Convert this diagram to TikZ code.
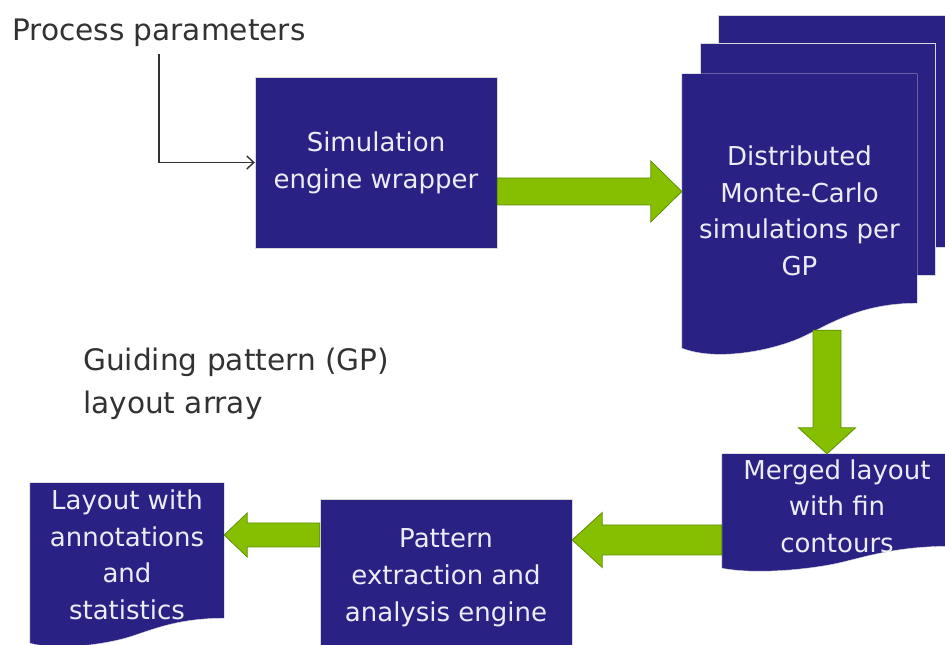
\documentclass[tikz,border=0pt]{standalone}
\usepackage{fontspec}
\setmainfont{DejaVu Sans}
\usetikzlibrary{calc,backgrounds,arrows.meta}

\definecolor{navy}{RGB}{42,33,133}
\definecolor{paper}{RGB}{236,236,246}
\definecolor{leaf}{RGB}{134,191,0}
\definecolor{leafdark}{RGB}{94,143,0}
\definecolor{ink}{RGB}{50,50,50}

% page with a wavy lower edge, filled behind node #1
% #2: drop of the left end below the node, #3: rise of the right end
\newcommand\docpage[3]{%
  \fill[navy, draw=black!15] let \p1=(#1.south west), \p2=(#1.south east),
      \p3=($(#1.south east)-(#1.south west)$) in
    (#1.north west) -- (#1.north east) -- (\x2,\y2-#2+#3)
    .. controls (\x2-0.25*\x3,\y2-#2+#3) and (\x1+0.62*\x3,\y1-#2+0.5*#3) .. (\x1+0.5*\x3,\y1-#2+0.22*#3)
    .. controls (\x1+0.38*\x3,\y1-#2-0.05*#3) and (\x1+0.15*\x3,\y1-#2-0.3*#3) .. (\x1,\y1-#2) -- cycle;}

\begin{document}
\begin{tikzpicture}[x=1pt,y=1pt,
    box/.style={fill=navy, draw=black!15, text=paper, align=center, inner sep=0pt,
      font=\fontsize{26}{37}\selectfont},
    doc/.style={text=paper, align=center, inner sep=0pt, font=\fontsize{26}{36.5}\selectfont},
    caption/.style={text=ink, align=left, inner sep=0pt, font=\fontsize{29.6}{43}\selectfont},
    conn/.style={draw=ink, line width=1.4pt, shorten <=7pt, -{Straight Barb[length=7pt,width=13pt]}},
    fat/.style args={#1/#2/#3}{fill=leaf, draw=leafdark, line width=0.8pt, to path={
      ($(\tikztostart)!#1!90:(\tikztotarget)$)
      -- ($($(\tikztotarget)!#3!(\tikztostart)$)!#1!-90:(\tikztostart)$)
      -- ($($(\tikztotarget)!#3!(\tikztostart)$)!#2!-90:(\tikztostart)$)
      -- (\tikztotarget)
      -- ($($(\tikztotarget)!#3!(\tikztostart)$)!#2!90:(\tikztostart)$)
      -- ($($(\tikztotarget)!#3!(\tikztostart)$)!#1!90:(\tikztostart)$)
      -- ($(\tikztostart)!#1!-90:(\tikztotarget)$) -- cycle}}
  ]
  \useasboundingbox (0,0) rectangle (945,645);

  \node[caption, anchor=base west] (params) at (12,604) {Process parameters};
  \node[caption, anchor=north west] (gp) at (83,297) {Guiding pattern (GP)\\layout array};

  \node[box, minimum width=242pt, minimum height=171pt] (sim) at (376,482.5) {Simulation\\engine wrapper};
  \node[doc, minimum width=235pt, minimum height=274pt] (mc) at (799.5,434)
    {Distributed\\Monte-Carlo\\simulations per\\GP};
  \node[doc, minimum width=230pt, minimum height=104pt] (merged) at (837,139)
    {Merged layout\\with fin\\contours};
  \node[box, minimum width=252pt, minimum height=158pt] (pattern) at (446,67)
    {Pattern\\extraction and\\analysis engine};
  \node[doc, minimum width=194pt, minimum height=144pt] (layout) at (127,90)
    {Layout with\\annotations\\and\\statistics};

  \begin{pgfonlayer}{background}
    % stacked pages behind the front one
    \filldraw[navy, draw=black!15] ($(mc.north west)+(36,59)$) rectangle ($(mc.north east)+(36,-173)$);
    \filldraw[navy, draw=black!15] ($(mc.north west)+(18,31)$) rectangle ($(mc.north east)+(18,-201)$);
    \docpage{mc}{0pt}{45pt}
    \docpage{merged}{10pt}{22pt}
    \docpage{layout}{16pt}{25pt}
  \end{pgfonlayer}

  \draw[conn] (params) |- (sim);

  \coordinate (a1) at ($(sim.east)+(0,-29)$);
  \coordinate (a2) at ($(mc.south)+(27.5,18)$);
  \coordinate (a3) at ($(merged.west)+(0,-34)$);
  \coordinate (a4) at ($(pattern.west)+(0,43)$);
  \draw[fat=13.5pt/30.5pt/31pt] (a1) to (a1 -| mc.west);
  \draw[fat=14pt/28.5pt/26pt] (a2) to (a2 |- merged.north);
  \draw[fat=15pt/27.5pt/30pt] (a3) to (a3 -| pattern.east);
  \draw[fat=12pt/22pt/23pt] (a4) to (a4 -| layout.east);
\end{tikzpicture}
\end{document}
